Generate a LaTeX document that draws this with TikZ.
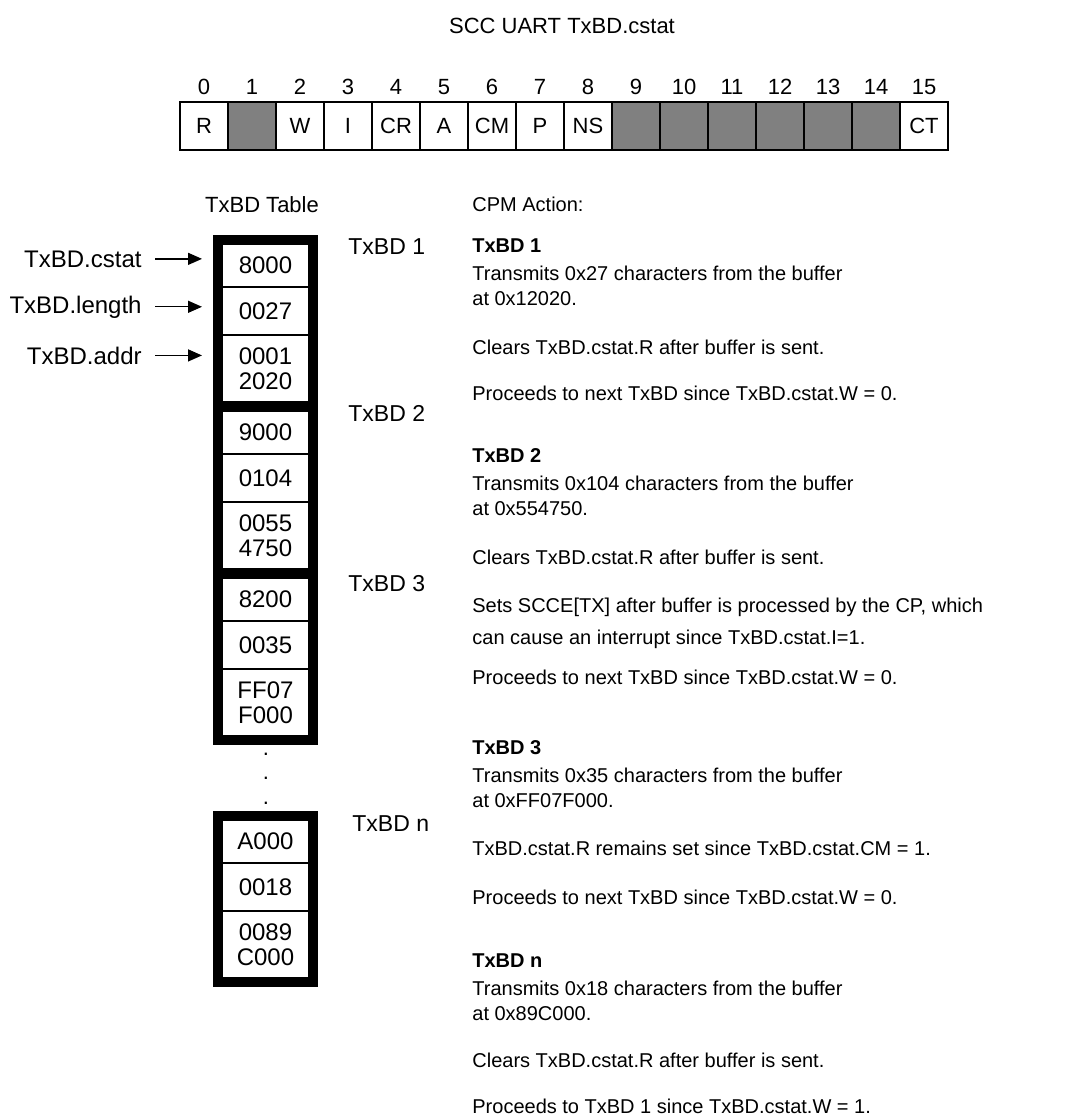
\documentclass[tikz,border=0pt]{standalone}
\usepackage{fontspec}
\setmainfont{Liberation Sans}
\usepackage{tikz}
\usetikzlibrary{positioning,arrows.meta,fit}
\definecolor{bitGray}{HTML}{808080}

\begin{document}
\begin{tikzpicture}[x=0.5pt, y=-0.5pt,
        bitCell/.style={draw, line width=0.8pt, minimum width=24pt, minimum height=24pt, inner sep=0pt, outer sep=0pt, font=\fontsize{11}{13}\selectfont},
        bitNum/.style={anchor=base, inner sep=0pt, font=\fontsize{11}{13}\selectfont},
        bdCell/.style={draw, line width=0.7pt, minimum width=43.5pt, inner sep=0pt, outer sep=0pt, align=center, font=\fontsize{12}{12.5}\selectfont},
        bdFrame/.style={draw, line width=4.5pt, inner sep=2.25pt},
        sideLabel/.style={anchor=base east, inner sep=0pt, font=\fontsize{12}{13}\selectfont},
        bdLabel/.style={anchor=base west, inner sep=0pt, font=\fontsize{11.5}{13}\selectfont},
        actionText/.style={anchor=base west, inner sep=0pt, align=left, font=\fontsize{10}{12.5}\selectfont},
        actionHead/.style={actionText, font=\fontsize{10}{12.5}\selectfont\bfseries},
        ptrArrow/.style={-{Triangle[length=7pt,width=6pt]}, line width=0.7pt, shorten <=6.5pt, shorten >=10pt}
    ]
        \useasboundingbox (0,0) rectangle (1088,1118);

        % Titolo e registro
        \node[bitNum] (title) at (562,34) {SCC UART TxBD.cstat};
        \foreach \i/\lbl/\shade in {0/R/white, 1/{}/bitGray, 2/W/white, 3/I/white, 4/CR/white, 5/A/white, 6/CM/white, 7/P/white,
                                    8/NS/white, 9/{}/bitGray, 10/{}/bitGray, 11/{}/bitGray, 12/{}/bitGray, 13/{}/bitGray, 14/{}/bitGray, 15/CT/white} {
            \node[bitCell, fill=\shade] (reg\i) at (204+48*\i,126) {\lbl};
            \node[bitNum] (num\i) at (204+48*\i,95) {\i};
        }

        % Intestazioni
        \node[bitNum] (tableHead) at (262,213) {TxBD Table};
        \node[actionText] (actionHead) at (472,212) {CPM Action:};

        % Tabella: TxBD 1
        \node[bdCell, minimum height=21.5pt, anchor=north] (bd1a) at (265.5,244) {8000};
        \node[bdCell, minimum height=24pt, below=0pt of bd1a] (bd1b) {0027};
        \node[bdCell, minimum height=33.5pt, below=0pt of bd1b] (bd1c) {0001\\2020};
        \node[bdFrame, fit=(bd1a)(bd1c)] (bd1) {};

        % Tabella: TxBD 2
        \node[bdCell, minimum height=21.5pt, below=4.5pt of bd1c] (bd2a) {9000};
        \node[bdCell, minimum height=24pt, below=0pt of bd2a] (bd2b) {0104};
        \node[bdCell, minimum height=33.5pt, below=0pt of bd2b] (bd2c) {0055\\4750};
        \node[bdFrame, fit=(bd2a)(bd2c)] (bd2) {};

        % Tabella: TxBD 3
        \node[bdCell, minimum height=21.5pt, below=4.5pt of bd2c] (bd3a) {8200};
        \node[bdCell, minimum height=24pt, below=0pt of bd3a] (bd3b) {0035};
        \node[bdCell, minimum height=33.5pt, below=0pt of bd3b] (bd3c) {FF07\\F000};
        \node[bdFrame, fit=(bd3a)(bd3c)] (bd3) {};

        \node[bitNum, align=center, font=\fontsize{11}{12.25}\selectfont] (gapDots) at (266,804) {.\\.\\.};

        % Tabella: TxBD n
        \node[bdCell, minimum height=21.5pt, anchor=north] (bdna) at (265.5,820) {A000};
        \node[bdCell, minimum height=24pt, below=0pt of bdna] (bdnb) {0018};
        \node[bdCell, minimum height=33.5pt, below=0pt of bdnb] (bdnc) {0089\\C000};
        \node[bdFrame, fit=(bdna)(bdnc)] (bdn) {};

        % Campi del descrittore
        \node[sideLabel] (lblCstat) at (142,267) {TxBD.cstat};
        \node[sideLabel] (lblLength) at (142,313) {TxBD.length};
        \node[sideLabel] (lblAddr) at (142,364) {TxBD.addr};
        \draw[ptrArrow] (lblCstat.east) -- (lblCstat.east -| bd1a.west);
        \draw[ptrArrow] (lblLength.east) -- (lblLength.east -| bd1b.west);
        \draw[ptrArrow] (lblAddr.east) -- (lblAddr.east -| bd1c.west);

        \node[bdLabel] (tag1) at (348,255) {TxBD 1};
        \node[bdLabel] (tag2) at (348,421) {TxBD 2};
        \node[bdLabel] (tag3) at (348,591) {TxBD 3};
        \node[bdLabel] (tagn) at (352,831) {TxBD n};

        % Azioni CPM
        \node[actionHead] (act1Head) at (472,252) {TxBD 1};
        \node[actionText] (act1Tx) at (472,305) {Transmits 0x27 characters from the buffer\\at 0x12020.};
        \node[actionText] (act1Clr) at (472,354) {Clears TxBD.cstat.R after buffer is sent.};
        \node[actionText] (act1Next) at (472,400) {Proceeds to next TxBD since TxBD.cstat.W = 0.};

        \node[actionHead] (act2Head) at (472,462) {TxBD 2};
        \node[actionText] (act2Tx) at (472,515) {Transmits 0x104 characters from the buffer\\at 0x554750.};
        \node[actionText] (act2Clr) at (472,564) {Clears TxBD.cstat.R after buffer is sent.};
        \node[actionText] (act2Int) at (472,644) {Sets SCCE[TX] after buffer is processed by the CP, which\\[3.5pt]can cause an interrupt since TxBD.cstat.I=1.};
        \node[actionText] (act2Next) at (472,684) {Proceeds to next TxBD since TxBD.cstat.W = 0.};

        \node[actionHead] (act3Head) at (472,754) {TxBD 3};
        \node[actionText] (act3Tx) at (472,807) {Transmits 0x35 characters from the buffer\\at 0xFF07F000.};
        \node[actionText] (act3Keep) at (472,855) {TxBD.cstat.R remains set since TxBD.cstat.CM = 1.};
        \node[actionText] (act3Next) at (472,904) {Proceeds to next TxBD since TxBD.cstat.W = 0.};

        \node[actionHead] (actnHead) at (472,967) {TxBD n};
        \node[actionText] (actnTx) at (472,1020) {Transmits 0x18 characters from the buffer\\at 0x89C000.};
        \node[actionText] (actnClr) at (472,1067) {Clears TxBD.cstat.R after buffer is sent.};
        \node[actionText] (actnNext) at (472,1113) {Proceeds to TxBD 1 since TxBD.cstat.W = 1.};
    \end{tikzpicture}
\end{document}
